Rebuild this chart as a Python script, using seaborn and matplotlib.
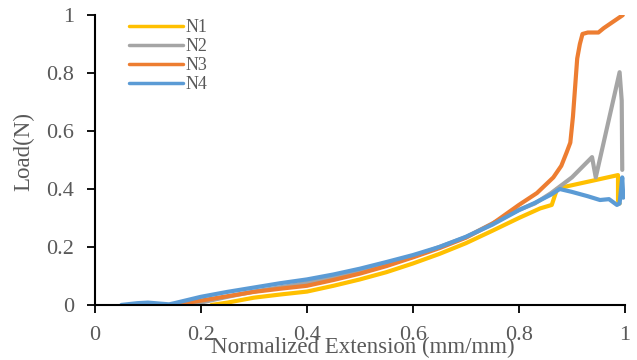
import matplotlib
matplotlib.use("Agg")
import matplotlib.pyplot as plt
import seaborn as sns
import pandas as pd

# ---- data ----
series_names = ["N1", "N2", "N3", "N4"]

n1_x = [0.22, 0.25, 0.30, 0.35, 0.40, 0.45, 0.50, 0.55, 0.60, 0.65, 0.70, 0.75, 0.80, 0.84, 0.862, 0.872, 0.88, 0.93, 0.987, 0.987, 0.99]
n1_y = [0.0, 0.008, 0.025, 0.036, 0.046, 0.066, 0.088, 0.113, 0.143, 0.176, 0.213, 0.256, 0.300, 0.333, 0.345, 0.40, 0.405, 0.425, 0.448, 0.36, 0.35]

n2_x = [0.18, 0.25, 0.30, 0.40, 0.50, 0.60, 0.70, 0.80, 0.83, 0.86, 0.90, 0.938, 0.945, 0.99, 0.994, 0.995]
n2_y = [0.0, 0.028, 0.046, 0.076, 0.114, 0.166, 0.234, 0.328, 0.350, 0.385, 0.440, 0.510, 0.440, 0.803, 0.705, 0.466]

n3_x = [0.15, 0.20, 0.25, 0.30, 0.35, 0.40, 0.45, 0.50, 0.55, 0.60, 0.65, 0.70, 0.75, 0.80, 0.834, 0.865, 0.88, 0.89, 0.897, 0.902, 0.906, 0.910, 0.915, 0.920, 0.93, 0.95, 0.96, 0.996]
n3_y = [0.0, 0.015, 0.030, 0.045, 0.056, 0.066, 0.086, 0.108, 0.134, 0.164, 0.196, 0.232, 0.280, 0.345, 0.386, 0.440, 0.480, 0.526, 0.560, 0.650, 0.750, 0.850, 0.900, 0.935, 0.940, 0.940, 0.955, 1.0]

n4_x = [0.05, 0.08, 0.10, 0.12, 0.14, 0.15, 0.20, 0.25, 0.30, 0.35, 0.40, 0.45, 0.50, 0.55, 0.60, 0.65, 0.70, 0.75, 0.80, 0.83, 0.86, 0.877, 0.90, 0.93, 0.953, 0.97, 0.985, 0.99, 0.995, 0.997]
n4_y = [0.0, 0.006, 0.008, 0.005, 0.002, 0.006, 0.028, 0.045, 0.060, 0.075, 0.088, 0.105, 0.125, 0.148, 0.172, 0.200, 0.235, 0.277, 0.327, 0.352, 0.380, 0.400, 0.390, 0.375, 0.362, 0.365, 0.345, 0.350, 0.440, 0.370]

tick_vals = [0, 0.2, 0.4, 0.6, 0.8, 1.0]
tick_labels = ["0", "0.2", "0.4", "0.6", "0.8", "1"]
colors = {"N1": "#FFC000", "N2": "#A5A5A5", "N3": "#ED7D31", "N4": "#5B9BD5"}

rows = []
for name, xs, ys in zip(series_names, [n1_x, n2_x, n3_x, n4_x], [n1_y, n2_y, n3_y, n4_y]):
    for i, (xv, yv) in enumerate(zip(xs, ys)):
        rows.append({"series": name, "order": i, "x": xv, "y": yv})
df = pd.DataFrame(rows)

sns.set_style("white")
plt.rcParams["font.family"] = ["Liberation Serif", "DejaVu Serif"]

fig = plt.figure(figsize=(6.37, 3.6), dpi=100)
ax = fig.add_axes([0.149, 0.153, 0.981 - 0.149, 0.958 - 0.153])

txt = "#595959"
for name in series_names:
    sub = df[df["series"] == name]
    sns.lineplot(data=sub, x="x", y="y", sort=False, estimator=None,
                 color=colors[name], linewidth=3.0, ax=ax, label=name)

ax.set_xlim(0, 1)
ax.set_ylim(0, 1)
ax.set_xticks(tick_vals)
ax.set_xticklabels(tick_labels)
ax.set_yticks(tick_vals)
ax.set_yticklabels(tick_labels)

for s in ["top", "right"]:
    ax.spines[s].set_visible(False)
for s in ["left", "bottom"]:
    ax.spines[s].set_color("black")
    ax.spines[s].set_linewidth(1.5)

ax.tick_params(axis="both", direction="out", length=6, width=1.3, color="black",
               labelsize=16, labelcolor=txt, pad=9, bottom=True, left=True)

ax.set_xlabel("Normalized Extension (mm/mm)", fontsize=16.5, color=txt)
ax.set_ylabel("Load(N)", fontsize=16.5, color=txt)
ax.xaxis.set_label_coords(0.505, -0.11)
ax.yaxis.set_label_coords(-0.115, 0.53)

handles, labels = ax.get_legend_handles_labels()
leg = ax.legend(handles, labels, loc="upper left", bbox_to_anchor=(0.064, 0.985),
                frameon=False, fontsize=13, handlelength=3.0, handletextpad=0.12,
                labelspacing=0.1, borderpad=0, borderaxespad=0)
for t in leg.get_texts():
    t.set_color(txt)
for l in leg.get_lines():
    l.set_linewidth(2.5)

fig.savefig("out.png", dpi=100)
